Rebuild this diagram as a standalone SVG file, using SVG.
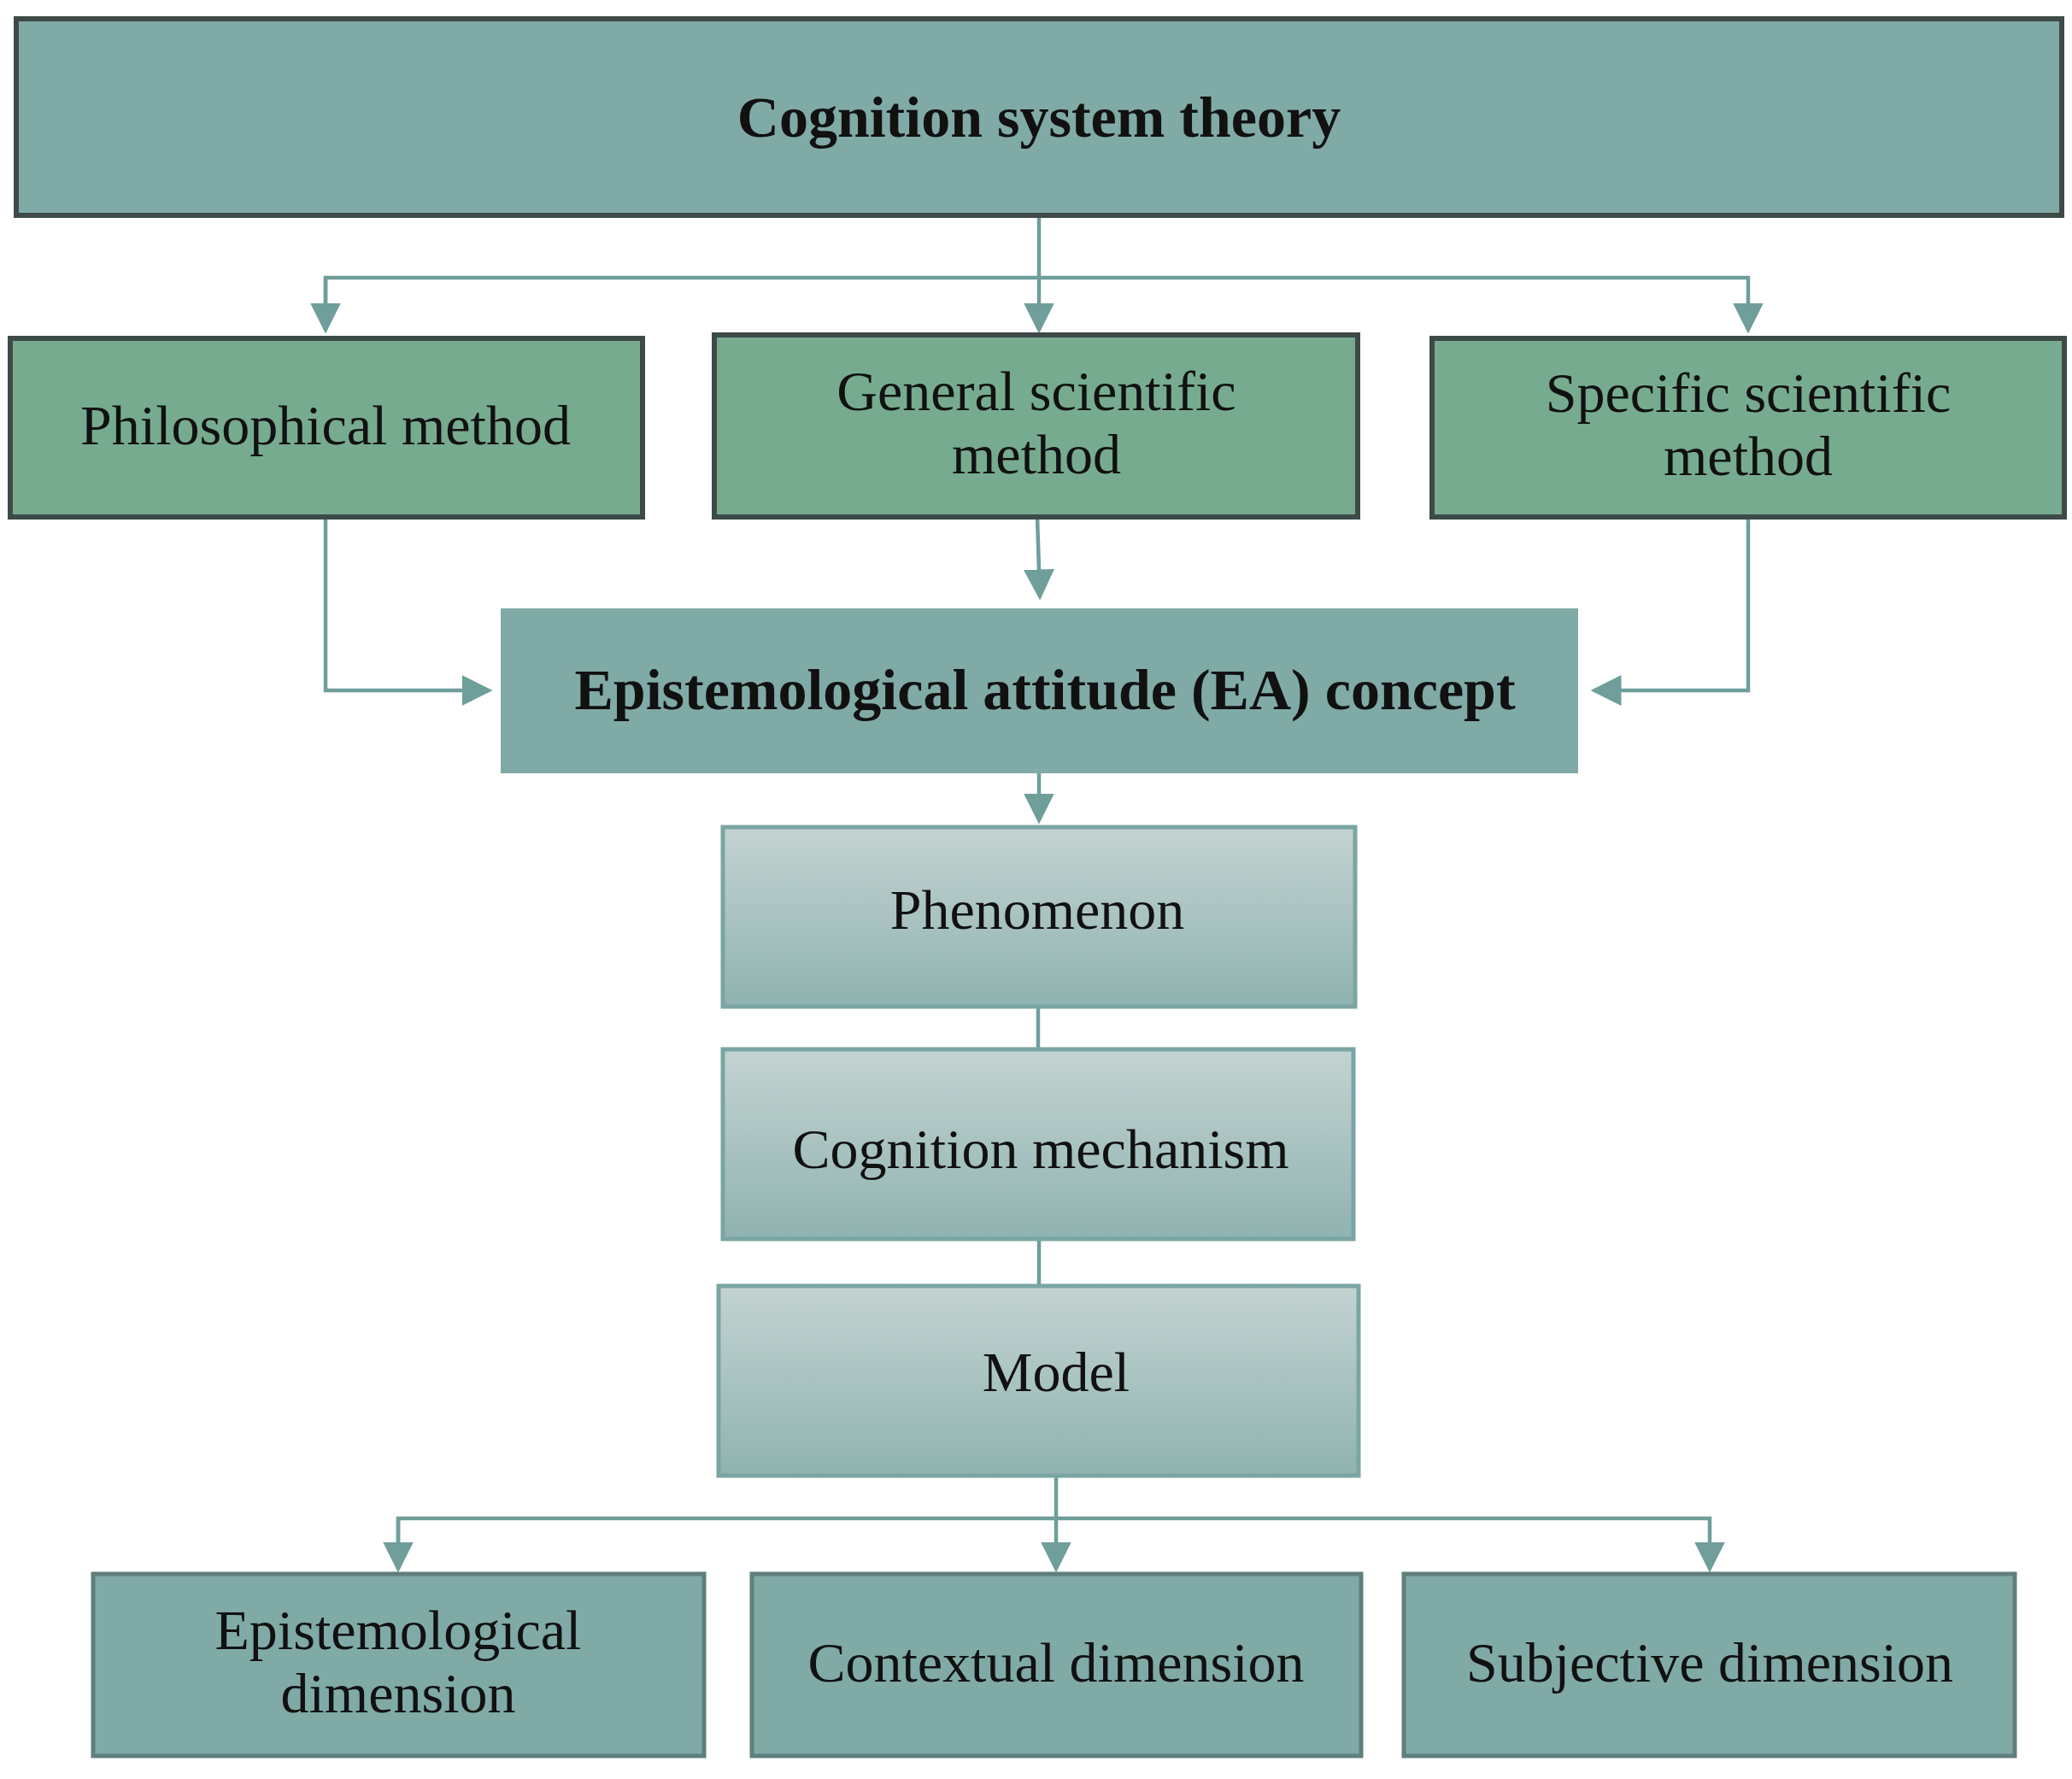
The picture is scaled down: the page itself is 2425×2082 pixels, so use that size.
<svg xmlns="http://www.w3.org/2000/svg" width="2425" height="2082" viewBox="0 0 2425 2082">
<defs>
<linearGradient id="g" x1="0" y1="0" x2="0" y2="1"><stop offset="0" stop-color="#c3d3d2"/><stop offset="1" stop-color="#8fb3b0"/></linearGradient>
<marker id="a" markerWidth="8" markerHeight="8" refX="7" refY="4" orient="auto" markerUnits="strokeWidth"><path d="M0,0 L8,4 L0,8 Z" fill="#6f9e9b"/></marker>
</defs>
<style>
text{font-family:"Liberation Serif","DejaVu Serif",serif;fill:#111;text-anchor:middle}
.t{font-size:66px}
.b{font-size:68px;font-weight:bold}
.c{fill:none;stroke:#6f9e9b;stroke-width:4.5}
.top{fill:#80aaa6;stroke:#3d4a48;stroke-width:6}
.mid{fill:#77ab8f;stroke:#3d4a48;stroke-width:6}
.gr{fill:url(#g);stroke:#7aa5a2;stroke-width:5}
.bot{fill:#80aaa6;stroke:#5f7f7d;stroke-width:5}
</style>
<rect width="2425" height="2082" fill="#fff"/>
<g id="connectors">
<path class="c" d="M1216,252 V386" marker-end="url(#a)"/>
<path class="c" d="M381,386 V325 H2046 V386" marker-end="url(#a)"/>
<path class="c" d="M381,325 V386" marker-end="url(#a)"/>
<path class="c" d="M381,605 V808 H572" marker-end="url(#a)"/>
<path class="c" d="M1214,605 L1217,698" marker-end="url(#a)"/>
<path class="c" d="M2046,605 V808 H1866" marker-end="url(#a)"/>
<path class="c" d="M1216,905 V960" marker-end="url(#a)"/>
<path class="c" d="M1215,1178 V1228"/>
<path class="c" d="M1216,1450 V1505"/>
<path class="c" d="M1236,1710 V1836" marker-end="url(#a)"/>
<path class="c" d="M466,1836 V1777 H2001 V1836" marker-end="url(#a)"/>
<path class="c" d="M466,1777 V1836" marker-end="url(#a)"/>
</g>
<g id="top"><rect class="top" x="19" y="22" width="2394" height="230"/><text class="b" x="1216" y="160">Cognition system theory</text></g>
<g id="phil"><rect class="mid" x="12" y="396" width="740" height="209"/><text class="t" x="381" y="520">Philosophical method</text></g>
<g id="general"><rect class="mid" x="836" y="392" width="753" height="213"/><text class="t" x="1213" y="480">General scientific</text><text class="t" x="1213" y="554">method</text></g>
<g id="specific"><rect class="mid" x="1676" y="396" width="740" height="209"/><text class="t" x="2046" y="482">Specific scientific</text><text class="t" x="2046" y="556">method</text></g>
<g id="ea"><rect x="586" y="712" width="1261" height="193" fill="#80aaa6"/><text class="b" x="1223" y="830">Epistemological attitude (EA)  concept</text></g>
<g id="phen"><rect class="gr" x="846" y="968" width="740" height="210"/><text class="t" x="1214" y="1087">Phenomenon</text></g>
<g id="mech"><rect class="gr" x="846" y="1228" width="738" height="222"/><text class="t" x="1218" y="1367">Cognition mechanism</text></g>
<g id="model"><rect class="gr" x="841" y="1505" width="749" height="222"/><text class="t" x="1236" y="1628">Model</text></g>
<g id="epi"><rect class="bot" x="109" y="1842" width="715" height="213"/><text class="t" x="466" y="1930">Epistemological</text><text class="t" x="466" y="2004">dimension</text></g>
<g id="ctx"><rect class="bot" x="880" y="1842" width="713" height="213"/><text class="t" x="1236" y="1968">Contextual dimension</text></g>
<g id="subj"><rect class="bot" x="1643" y="1842" width="715" height="213"/><text class="t" x="2001" y="1968">Subjective dimension</text></g>
</svg>
